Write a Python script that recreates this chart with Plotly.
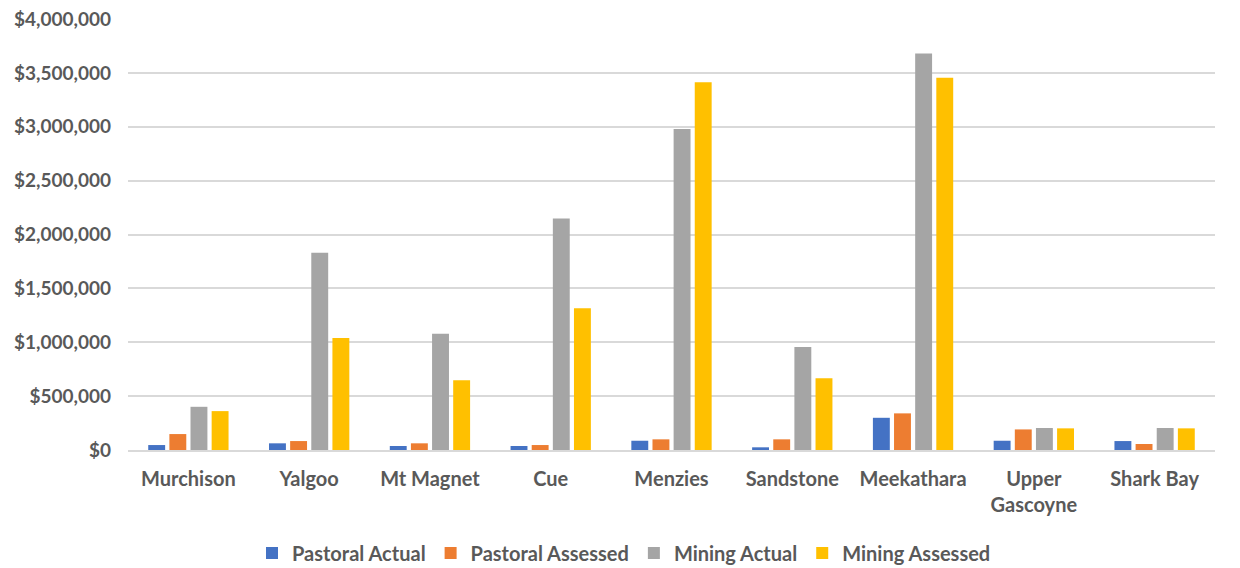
import plotly.graph_objects as go

categories = ["Murchison", "Yalgoo", "Mt Magnet", "Cue", "Menzies", "Sandstone",
              "Meekathara", "Upper<br>Gascoyne", "Shark Bay"]
pastoral_actual = [46000, 62000, 37000, 37000, 86000, 25000, 299000, 86000, 83000]
pastoral_assessed = [148000, 83000, 62000, 46000, 99000, 99000, 340000, 191000, 56000]
mining_actual = [401000, 1830000, 1080000, 2148000, 2980000, 955000, 3680000, 204000, 204000]
mining_assessed = [361000, 1040000, 648000, 1315000, 3415000, 667000, 3455000, 201000, 201000]
y_ticks = [0, 500000, 1000000, 1500000, 2000000, 2500000, 3000000, 3500000, 4000000]

series = [
    ("Pastoral Actual", pastoral_actual, "#4472C4"),
    ("Pastoral Assessed", pastoral_assessed, "#ED7D31"),
    ("Mining Actual", mining_actual, "#A5A5A5"),
    ("Mining Assessed", mining_assessed, "#FFC000"),
]

fig = go.Figure()
for name, vals, col in series:
    fig.add_trace(go.Bar(x=categories, y=vals, name=name, marker_color=col,
                         marker_line_width=0))

font_family = "Lato, 'Open Sans', sans-serif"
fig.update_layout(
    width=1232, height=560,
    margin=dict(l=120, r=25, t=11, b=118, autoexpand=False),
    paper_bgcolor="white", plot_bgcolor="white",
    barmode="group", bargap=0.3, bargroupgap=0.2,
    font=dict(family=font_family, size=20, color="#595959"),
    legend=dict(orientation="h", x=0.5, xanchor="center", xref="container",
                y=15 / 560, yanchor="middle", yref="container",
                font=dict(family=font_family, size=20, color="#595959", weight="bold"),
                itemwidth=30, traceorder="normal"),
    showlegend=True,
)
fig.update_yaxes(range=[0, 4001000], tickmode="array", tickvals=y_ticks,
                 ticktext=[f"${v:,}" for v in y_ticks],
                 showgrid=True, gridcolor="#D9D9D9", gridwidth=1.5,
                 zeroline=False, showline=False, ticks="", ticklabeloverflow="allow",
                 tickfont=dict(family=font_family, size=19, color="#595959", weight="bold"),
                 ticklabelstandoff=16)
fig.update_xaxes(showline=True, linecolor="#D9D9D9", linewidth=2, ticks="",
                 tickfont=dict(family=font_family, size=20, color="#595959", weight="bold"),
                 ticklabelstandoff=10)

fig.write_html("out.html")
